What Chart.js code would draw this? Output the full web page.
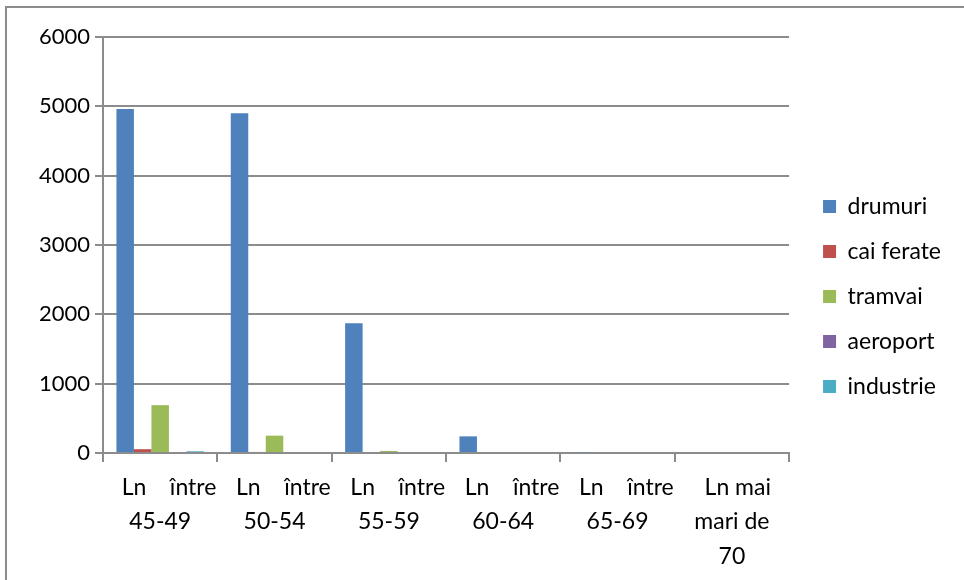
<!DOCTYPE html>
<html>
<head>
<meta charset="utf-8">
<script src="https://cdn.jsdelivr.net/npm/chart.js@4"></script>
<style>
  body { margin: 0; background: #fff; }
  #frame { position: absolute; left: 5px; top: 6px; width: 970px; height: 600px;
           border-left: 2px solid #8c8c8c; border-top: 2px solid #8c8c8c; }
  #wrap { position: absolute; left: 0; top: 0; width: 964px; height: 580px; }
</style>
</head>
<body>
<div id="frame"></div>
<div id="wrap"><canvas id="statsChart" width="964" height="580"></canvas></div>
<script>
const categories = [
    ['   Ln    între', '45-49'],
    ['   Ln    între', '50-54'],
    ['   Ln    între', '55-59'],
    ['   Ln    între', '60-64'],
    ['   Ln    între', '65-69'],
    ['  Ln mai', 'mari de', '70']
];
const seriesNames = ['drumuri', 'cai ferate', 'tramvai', 'aeroport', 'industrie'];
const drumuri = [4960, 4900, 1870, 240, 10, 0];
const caiFerate = [55, 15, 0, 0, 0, 0];
const tramvai = [690, 250, 30, 0, 0, 0];
const aeroport = [0, 0, 0, 0, 0, 0];
const industrie = [25, 0, 0, 0, 0, 0];
const colors = ['#4F81BD', '#C0504D', '#9BBB59', '#8064A2', '#4BACC6'];
const yTicks = [0, 1000, 2000, 3000, 4000, 5000, 6000];

const fontFamily = 'Lato, "Open Sans", sans-serif';
const values = [drumuri, caiFerate, tramvai, aeroport, industrie];

// nudge the legend a bit away from the plot, like the original
const legendShift = {
    id: 'legendShift',
    afterLayout(chart) {
        const lg = chart.legend;
        const dx = chart.chartArea.right + 12 - lg.left;
        lg.left += dx; lg.right += dx;
        lg.top -= 12; lg.bottom -= 12;
    }
};

const ctx = document.getElementById('statsChart').getContext('2d');
const chart = new Chart(ctx, {
    type: 'bar',
    data: {
        labels: categories,
        datasets: seriesNames.map((name, i) => ({
            label: name,
            data: values[i],
            backgroundColor: colors[i],
            borderWidth: 0,
            categoryPercentage: 0.765,
            barPercentage: 1
        }))
    },
    plugins: [legendShift],
    options: {
        responsive: false,
        animation: false,
        layout: {
            padding: { top: 37, left: 0, right: 25, bottom: 0 }
        },
        plugins: {
            tooltip: { enabled: false },
            legend: {
                position: 'right',
                labels: {
                    boxWidth: 13,
                    boxHeight: 13,
                    padding: 22,
                    color: '#000',
                    font: { family: fontFamily, size: 23 }
                }
            }
        },
        scales: {
            x: {
                grid: {
                    offset: true,
                    drawOnChartArea: false,
                    drawTicks: true,
                    tickLength: 9,
                    color: '#8c8c8c',
                    lineWidth: 2
                },
                border: { color: '#8c8c8c', width: 2 },
                ticks: {
                    color: '#000',
                    padding: 9,
                    maxRotation: 0,
                    autoSkip: false,
                    font: { family: fontFamily, size: 23, lineHeight: 1.48 }
                },
                afterFit: (scale) => { scale.height = 127; }
            },
            y: {
                min: 0,
                max: 6000,
                afterBuildTicks: (scale) => { scale.ticks = yTicks.map(v => ({ value: v })); },
                grid: {
                    color: '#8c8c8c',
                    lineWidth: 2,
                    tickLength: 8
                },
                border: { color: '#8c8c8c', width: 2 },
                ticks: {
                    color: '#000',
                    padding: 5,
                    font: { family: fontFamily, size: 22 },
                    callback: (v) => String(v)
                },
                afterFit: (scale) => { scale.width = 103; }
            }
        }
    }
});
</script>
</body>
</html>
